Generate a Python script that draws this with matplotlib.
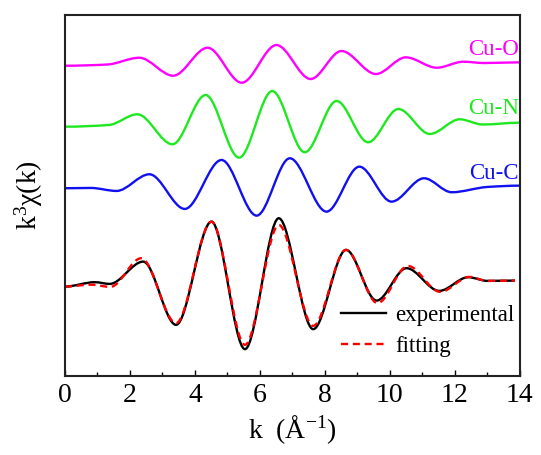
import matplotlib
matplotlib.use('Agg')
import matplotlib.pyplot as plt
from matplotlib.path import Path
from matplotlib.patches import PathPatch
from matplotlib.lines import Line2D
from matplotlib.ticker import MultipleLocator

plt.rcParams['font.family'] = ['Liberation Serif', 'DejaVu Serif']
plt.rcParams['mathtext.fontset'] = 'custom'
plt.rcParams['mathtext.rm'] = 'Liberation Serif'
plt.rcParams['mathtext.it'] = 'Liberation Serif:italic'

# ---- data: turning points of each curve ----
# (k in 1/Angstrom, signal in arbitrary units relative to each curve's baseline)
k_cuo = [0, 1.3, 2.29, 3.33, 4.39, 5.44, 6.51, 7.56, 8.51, 9.57, 10.49, 11.44, 12.26, 12.9, 14.0]
y_cuo = [-0.17, -0.05, 0.63, -1.17, 1.63, -1.87, 1.9, -1.5, 1.3, -1.0, 0.67, -0.37, 0.23, 0.1, 0.17]

k_cun = [0, 1.35, 2.23, 3.31, 4.33, 5.36, 6.38, 7.38, 8.36, 9.33, 10.26, 11.23, 12.15, 12.85, 14.0]
y_cun = [-0.17, 0.0, 1.07, -1.93, 3.0, -3.27, 3.4, -2.73, 2.4, -1.73, 1.6, -0.9, 0.57, 0.05, 0.23]

k_cuc = [0, 0.8, 1.59, 2.6, 3.69, 4.82, 5.9, 6.92, 8.05, 9.06, 10.05, 11.05, 11.9, 13.0, 14.0]
y_cuc = [-0.03, 0.0, -0.3, 1.37, -2.1, 2.8, -2.77, 2.97, -2.37, 2.13, -1.37, 0.97, -0.43, 0.1, 0.23]

k_exp = [0, 0.92, 1.38, 2.41, 3.42, 4.51, 5.54, 6.58, 7.64, 8.65, 9.59, 10.51, 11.52, 12.41, 13.0, 13.85]
y_exp = [-0.07, 0.37, 0.2, 2.43, -3.9, 6.43, -6.33, 6.77, -4.33, 3.6, -1.47, 1.77, -0.5, 0.87, 0.5, 0.53]

k_fit = [0, 0.8, 1.4, 2.35, 3.42, 4.51, 5.54, 6.58, 7.64, 8.65, 9.62, 10.55, 11.55, 12.45, 13.0, 13.85]
y_fit = [-0.07, 0.12, -0.1, 2.77, -3.73, 6.43, -5.9, 6.1, -4.0, 3.6, -1.73, 2.0, -0.6, 0.9, 0.5, 0.53]

shell_labels = ['Cu-O', 'Cu-N', 'Cu-C']
legend_labels = ['experimental', 'fitting']
xticks = [0, 2, 4, 6, 8, 10, 12, 14]

# vertical offsets of the stacked curves (layout)
offsets = {'Cu-O': 31.2, 'Cu-N': 25.1, 'Cu-C': 18.8, 'exp': 9.0}


def smooth_path(xs, ys, off):
    """Cubic Hermite (Bezier) path through the read points; flat at turning points."""
    n = len(xs)
    ys = [y + off for y in ys]
    m = []
    for i in range(n):
        if i == 0 or i == n - 1:
            m.append(0.0)
            continue
        d0 = (ys[i] - ys[i - 1]) / (xs[i] - xs[i - 1])
        d1 = (ys[i + 1] - ys[i]) / (xs[i + 1] - xs[i])
        if d0 * d1 <= 0:
            m.append(0.0)
        else:
            m.append(2.0 / (1.0 / d0 + 1.0 / d1))
    verts = [(xs[0], ys[0])]
    codes = [Path.MOVETO]
    for i in range(n - 1):
        h = xs[i + 1] - xs[i]
        c1 = (xs[i] + h / 3.0, ys[i] + m[i] * h / 3.0)
        c2 = (xs[i + 1] - h / 3.0, ys[i + 1] - m[i + 1] * h / 3.0)
        verts += [c1, c2, (xs[i + 1], ys[i + 1])]
        codes += [Path.CURVE4, Path.CURVE4, Path.CURVE4]
    return Path(verts, codes)


fig = plt.figure(figsize=(5.41, 4.55), dpi=100)
ax = fig.add_axes([0.120, 0.174, 0.841, 0.794])

lw = 1.7
dash = (0, (3, 2))
curves = [
    (k_cuo, y_cuo, offsets['Cu-O'], '#FF00FF', '-'),
    (k_cun, y_cun, offsets['Cu-N'], '#1EE81E', '-'),
    (k_cuc, y_cuc, offsets['Cu-C'], '#1010F0', '-'),
    (k_exp, y_exp, offsets['exp'], 'black', '-'),
    (k_fit, y_fit, offsets['exp'], '#FF0000', dash),
]
for xs, ys, off, col, ls in curves:
    patch = PathPatch(smooth_path(xs, ys, off), fill=False, edgecolor=col,
                      linewidth=lw, linestyle=ls, capstyle='butt', joinstyle='round')
    ax.add_patch(patch)

label_colors = ['#FF00FF', '#1EE81E', '#1010F0']
label_y = [32.7, 26.7, 20.2]
for lab, col, yy in zip(shell_labels, label_colors, label_y):
    ax.text(13.97, yy, lab, color=col, fontsize=16.5, ha='right', va='center')

ax.set_xlim(0, 14)
ax.set_ylim(0, 36.15)
ax.set_xticks(xticks)
ax.set_xticklabels([str(t) for t in xticks])
ax.xaxis.set_minor_locator(MultipleLocator(1))
ax.set_yticks([])
ax.tick_params(axis='x', which='major', direction='in', length=4.5, width=1.0,
               labelsize=20, pad=5, top=False)
ax.tick_params(axis='x', which='minor', direction='in', length=3, width=1.0, top=False)
for sp in ax.spines.values():
    sp.set_linewidth(1.5)
    sp.set_color('#222222')

ax.set_xlabel(r'k  (Å$^{\mathregular{-1}}$)', fontsize=20, labelpad=4)
ax.set_ylabel(r'k$^{\mathregular{3}}$χ(k)', fontsize=20, labelpad=14)

handles = [Line2D([], [], color='black', lw=lw),
           Line2D([], [], color='#FF0000', lw=lw, linestyle=dash)]
ax.legend(handles, legend_labels, loc='upper left', bbox_to_anchor=(0.607, 0.195),
          frameon=False, fontsize=16.5, borderpad=0, borderaxespad=0,
          handlelength=1.95, handletextpad=0.4, labelspacing=0.4)

fig.savefig('out.png', dpi=100)
